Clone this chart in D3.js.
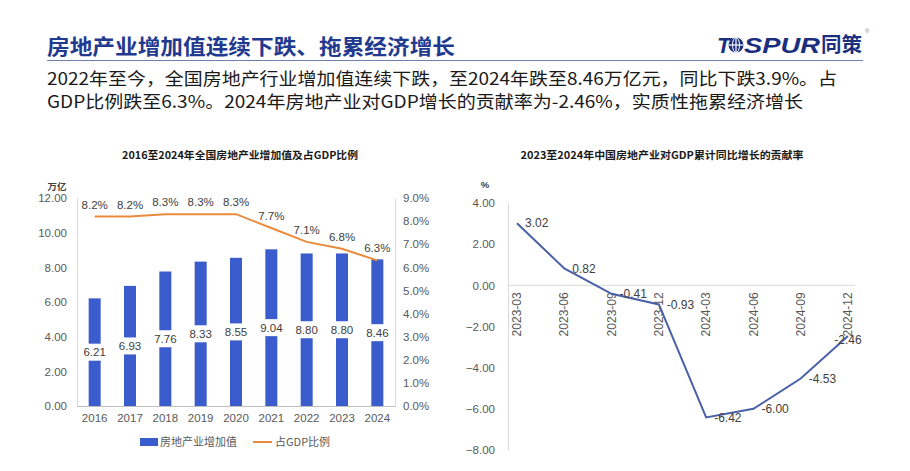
<!DOCTYPE html>
<html>
<head>
<meta charset="utf-8">
<script src="https://cdn.jsdelivr.net/npm/d3@7"></script>
<style>
  body { margin: 0; background: #fff; }
  svg { display: block; font-family: "Liberation Sans", Arial, "Noto Sans CJK SC", sans-serif; }
  .cjk { font-family: "Noto Sans CJK SC", "Liberation Sans", sans-serif; }
</style>
</head>
<body>
<svg id="chart" width="910" height="471"></svg>
<script>
// left chart data
const years = ["2016", "2017", "2018", "2019", "2020", "2021", "2022", "2023", "2024"];
const addedValue = [6.21, 6.93, 7.76, 8.33, 8.55, 9.04, 8.80, 8.80, 8.46];
const gdpShare = [8.2, 8.2, 8.3, 8.3, 8.3, 7.7, 7.1, 6.8, 6.3];
const leftTicks = [0, 2, 4, 6, 8, 10, 12];
const rightTicks = [0, 1, 2, 3, 4, 5, 6, 7, 8, 9];

// right chart data
const quarters = ["2023-03", "2023-06", "2023-09", "2023-12", "2024-03", "2024-06", "2024-09", "2024-12"];
const contribution = [3.02, 0.82, -0.41, -0.93, -6.42, -6.00, -4.53, -2.46];
const contribTicks = [4, 2, 0, -2, -4, -6, -8];

const svg = d3.select("#chart");
const textGray = "#595959";
const labelGray = "#404040";
const axisGray = "#d9d9d9";

// ---- header ----
svg.append("text").attr("class", "cjk")
    .attr("x", 47).attr("y", 54)
    .attr("font-size", 21).attr("font-weight", 700).attr("fill", "#1f3a8f")
    .attr("textLength", 408).attr("lengthAdjust", "spacingAndGlyphs")
    .text("房地产业增加值连续下跌、拖累经济增长");

svg.append("line")
    .attr("x1", 47).attr("x2", 863).attr("y1", 60.5).attr("y2", 60.5)
    .attr("stroke", "#6f7fb0").attr("stroke-width", 1.2);

let logo = svg.append("g").attr("fill", "#1b2f7e");
logo.append("text").attr("x", 717).attr("y", 53)
    .attr("font-size", 22).attr("font-weight", 900).attr("font-style", "italic")
    .text("T");
let globe = logo.append("g").attr("transform", "translate(736,45)");
globe.append("circle").attr("r", 7.5);
globe.append("line").attr("x1", -7.5).attr("x2", 7.5).attr("stroke", "#fff").attr("stroke-width", 1.2);
globe.append("line").attr("y1", -7.5).attr("y2", 7.5).attr("stroke", "#fff").attr("stroke-width", 1.2);
globe.append("ellipse").attr("rx", 3.5).attr("ry", 7.5).attr("fill", "none").attr("stroke", "#fff").attr("stroke-width", 1);
logo.append("text").attr("x", 744).attr("y", 53)
    .attr("font-size", 22).attr("font-weight", 900).attr("font-style", "italic")
    .attr("textLength", 76).attr("lengthAdjust", "spacingAndGlyphs")
    .text("SPUR");
logo.append("text").attr("class", "cjk").attr("x", 821).attr("y", 52)
    .attr("font-size", 20).attr("font-weight", 700)
    .attr("textLength", 41).attr("lengthAdjust", "spacingAndGlyphs")
    .text("同策");
svg.append("text").attr("x", 865).attr("y", 33).attr("font-size", 6).attr("fill", "#888").text("®");

const intro = [
    "2022年至今，全国房地产行业增加值连续下跌，至2024年跌至8.46万亿元，同比下跌3.9%。占",
    "GDP比例跌至6.3%。2024年房地产业对GDP增长的贡献率为-2.46%，实质性拖累经济增长"
];
const introWidth = [790, 756];
svg.selectAll("text.intro").data(intro).join("text")
    .attr("class", "intro cjk")
    .attr("x", 47).attr("y", (d, i) => 85 + i * 22.5)
    .attr("font-size", 17.5).attr("fill", "#1a1a1a")
    .attr("textLength", (d, i) => introWidth[i]).attr("lengthAdjust", "spacingAndGlyphs")
    .text(d => d);

// ---- left chart ----
const lx = d3.scaleBand().domain(years).range([77, 395]);
const ly = d3.scaleLinear().domain([0, 12]).range([406, 198]);
const ry = d3.scaleLinear().domain([0, 9]).range([406, 198]);

svg.append("text").attr("class", "cjk")
    .attr("x", 240).attr("y", 159).attr("text-anchor", "middle")
    .attr("font-size", 10.5).attr("font-weight", 700).attr("fill", "#1a1a1a")
    .attr("textLength", 236).attr("lengthAdjust", "spacingAndGlyphs")
    .text("2016至2024年全国房地产业增加值及占GDP比例");

svg.append("text").attr("class", "cjk")
    .attr("x", 57).attr("y", 190).attr("text-anchor", "middle")
    .attr("font-size", 9.5).attr("font-weight", 700).attr("fill", labelGray)
    .text("万亿");

let leftAxis = svg.append("g").attr("transform", "translate(77,0)")
    .call(d3.axisLeft(ly).tickValues(leftTicks).tickFormat(d3.format(".2f")).tickSize(0).tickPadding(10));
let rightAxis = svg.append("g").attr("transform", "translate(395,0)")
    .call(d3.axisRight(ry).tickValues(rightTicks).tickFormat(d => d.toFixed(1) + "%").tickSize(0).tickPadding(8));
let bottomAxis = svg.append("g").attr("transform", "translate(0,406)")
    .call(d3.axisBottom(lx).tickSize(0).tickPadding(8));
[leftAxis, rightAxis, bottomAxis].forEach(a => {
    a.select(".domain").attr("stroke", axisGray);
    a.selectAll("text").attr("font-size", 11.5).attr("fill", textGray)
        .attr("font-family", "Liberation Sans, Arial, sans-serif");
});
bottomAxis.select(".domain").attr("stroke", "#bfbfbf");

const barW = 12;
svg.append("g").selectAll("rect").data(addedValue).join("rect")
    .attr("x", (d, i) => lx(years[i]) + lx.bandwidth() / 2 - barW / 2)
    .attr("y", d => ly(d))
    .attr("width", barW)
    .attr("height", d => ly(0) - ly(d))
    .attr("fill", "#3a5ccc");

let barLabels = svg.append("g").selectAll("g").data(addedValue).join("g")
    .attr("transform", (d, i) => `translate(${lx(years[i]) + lx.bandwidth() / 2},${(ly(d) + ly(0)) / 2})`);
barLabels.append("rect")
    .attr("x", -15).attr("y", -8.5).attr("width", 30).attr("height", 17)
    .attr("fill", "#fff");
barLabels.append("text")
    .attr("text-anchor", "middle").attr("dy", "0.35em")
    .attr("font-size", 11.5).attr("fill", labelGray)
    .text(d => d.toFixed(2));

const shareLine = d3.line()
    .x((d, i) => lx(years[i]) + lx.bandwidth() / 2)
    .y(d => ry(d));
svg.append("path").datum(gdpShare)
    .attr("d", shareLine)
    .attr("fill", "none").attr("stroke", "#ea8a3c").attr("stroke-width", 2);

svg.append("g").selectAll("text").data(gdpShare).join("text")
    .attr("x", (d, i) => lx(years[i]) + lx.bandwidth() / 2)
    .attr("y", d => ry(d) - 12)
    .attr("dy", "0.35em").attr("text-anchor", "middle")
    .attr("font-size", 11.5).attr("fill", labelGray)
    .text(d => d.toFixed(1) + "%");

// legend
let legend = svg.append("g").attr("class", "cjk");
legend.append("rect").attr("x", 140).attr("y", 438).attr("width", 18).attr("height", 8).attr("fill", "#3a5ccc");
legend.append("text").attr("x", 160).attr("y", 442).attr("dy", "0.35em")
    .attr("font-size", 11).attr("fill", textGray).text("房地产业增加值");
legend.append("line").attr("x1", 253).attr("x2", 272).attr("y1", 442).attr("y2", 442)
    .attr("stroke", "#ea8a3c").attr("stroke-width", 2);
legend.append("text").attr("x", 275).attr("y", 442).attr("dy", "0.35em")
    .attr("font-size", 11).attr("fill", textGray).text("占GDP比例");

// ---- right chart ----
const qx = d3.scalePoint().domain(quarters).range([517, 848]);
const cy = d3.scaleLinear().domain([-8, 4]).range([450, 203]);

svg.append("text").attr("class", "cjk")
    .attr("x", 662).attr("y", 159).attr("text-anchor", "middle")
    .attr("font-size", 10.5).attr("font-weight", 700).attr("fill", "#1a1a1a")
    .attr("textLength", 283).attr("lengthAdjust", "spacingAndGlyphs")
    .text("2023至2024年中国房地产业对GDP累计同比增长的贡献率");

svg.append("text")
    .attr("x", 485).attr("y", 188).attr("text-anchor", "middle")
    .attr("font-size", 9.5).attr("font-weight", 700).attr("fill", labelGray)
    .text("%");

let cAxis = svg.append("g").attr("transform", "translate(508,0)")
    .call(d3.axisLeft(cy).tickValues(contribTicks).tickFormat(d3.format(".2f")).tickSize(0).tickPadding(13));
cAxis.select(".domain").attr("stroke", axisGray);
cAxis.selectAll("text").attr("font-size", 11.5).attr("fill", textGray);

svg.append("line")
    .attr("x1", 508).attr("x2", 855).attr("y1", cy(0)).attr("y2", cy(0))
    .attr("stroke", axisGray);

svg.append("g").selectAll("text").data(quarters).join("text")
    .attr("transform", d => `translate(${qx(d)},${cy(0) + 7}) rotate(-90)`)
    .attr("text-anchor", "end").attr("dy", "0.35em")
    .attr("font-size", 12).attr("fill", textGray)
    .text(d => d);

const contribLine = d3.line()
    .x((d, i) => qx(quarters[i]))
    .y(d => cy(d));
svg.append("path").datum(contribution)
    .attr("d", contribLine)
    .attr("fill", "none").attr("stroke", "#4a60a8").attr("stroke-width", 2);

const last = contribution.length - 1;
svg.append("g").selectAll("text").data(contribution).join("text")
    .attr("x", (d, i) => qx(quarters[i]) + (i == last ? 0 : 8))
    .attr("y", (d, i) => cy(d) + (i == last ? 4 : 0))
    .attr("dy", "0.35em")
    .attr("text-anchor", (d, i) => i == last ? "middle" : "start")
    .attr("font-size", 12).attr("fill", labelGray)
    .text(d => d.toFixed(2));
</script>
</body>
</html>
